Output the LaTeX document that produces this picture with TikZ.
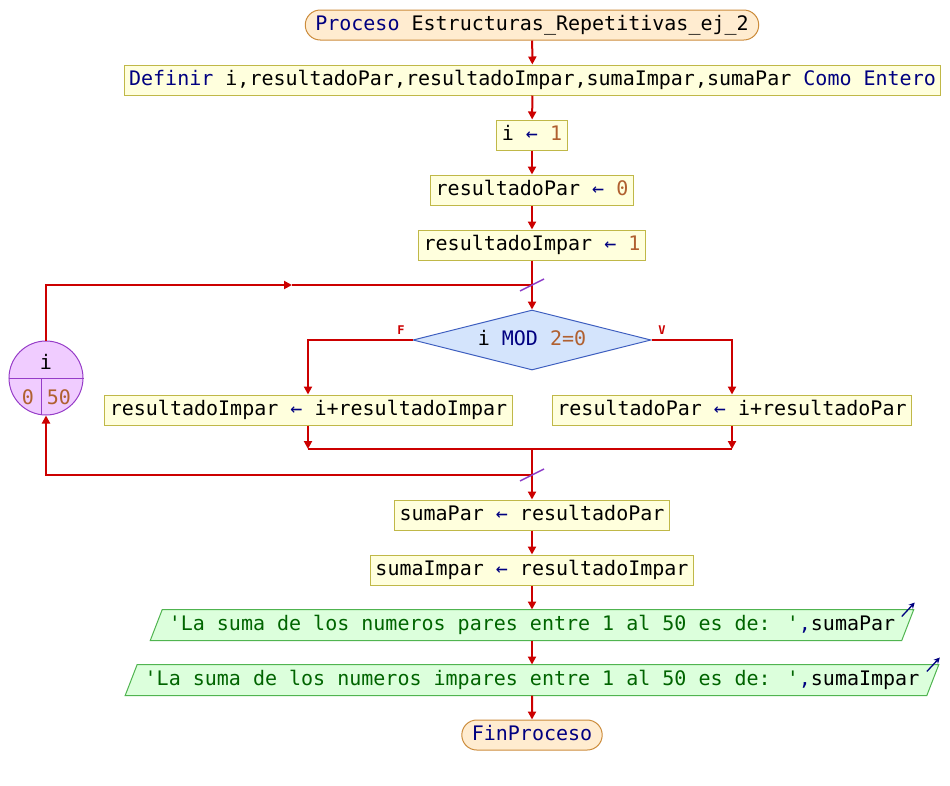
\documentclass[tikz,border=0pt]{standalone}
\usepackage{fontspec}
\newfontfamily\codigo{DejaVu Sans Mono}
\usetikzlibrary{arrows.meta,shapes.geometric,shapes.misc,backgrounds}
\definecolor{rojo}{RGB}{204,0,0}
\definecolor{kwazul}{RGB}{0,0,128}
\definecolor{numcafe}{RGB}{176,96,48}
\definecolor{cadverde}{RGB}{0,100,0}
\definecolor{procfondo}{RGB}{255,236,208}
\definecolor{procborde}{RGB}{204,140,60}
\definecolor{asigfondo}{RGB}{255,255,221}
\definecolor{asigborde}{RGB}{192,184,72}
\definecolor{decfondo}{RGB}{212,228,252}
\definecolor{decborde}{RGB}{64,96,192}
\definecolor{cicfondo}{RGB}{240,204,255}
\definecolor{cicborde}{RGB}{150,60,200}
\definecolor{salfondo}{RGB}{220,255,220}
\definecolor{salborde}{RGB}{80,180,80}
\definecolor{morado}{RGB}{140,60,200}
\newcommand{\kw}[1]{\textcolor{kwazul}{#1}}
\newcommand{\nro}[1]{\textcolor{numcafe}{#1}}
\newcommand{\cad}[1]{\textcolor{cadverde}{#1}}
\newcommand{\asg}{\textcolor{kwazul}{←}}
\tikzset{
  base/.style={font=\codigo\fontsize{20}{24}\selectfont, text height=14pt, text depth=4pt, minimum height=30pt, inner ysep=4pt, line width=1pt},
  proceso/.style={base, rounded rectangle, draw=procborde, fill=procfondo, inner xsep=7pt},
  asigna/.style={base, rectangle, draw=asigborde, fill=asigfondo, inner xsep=5pt},
  decision/.style={base, diamond, aspect=4, draw=decborde, fill=decfondo, minimum width=238pt, minimum height=60pt, inner sep=0pt},
  salida/.style={base, rectangle, inner xsep=12pt},
  salforma/.style={draw=salborde, fill=salfondo, line width=1pt},
  ciclo/.style={circle, draw=cicborde, fill=cicfondo, minimum size=74pt, inner sep=0pt, line width=1pt},
  ctexto/.style={font=\codigo\fontsize{20}{24}\selectfont, inner sep=0pt},
  flecha/.style={draw=rojo, line width=2pt, -{Triangle[width=8pt,length=8pt]}},
  linea/.style={draw=rojo, line width=2pt},
  marca/.style={draw=morado, line width=1.5pt},
  etiq/.style={font=\codigo\fontsize{12}{14}\bfseries\selectfont, text=rojo},
  avisa/.style={draw=kwazul, line width=1.3pt, -{Stealth[length=6pt,width=6pt]}}
}
\begin{document}
\begin{tikzpicture}[x=1pt,y=-1pt]
\useasboundingbox (0,0) rectangle (950,785);
% secuencia inicial
\node[proceso] (proc) at (532,25) {\kw{Proceso} Estructuras\_Repetitivas\_ej\_2};
\node[asigna] (defin) at (532.5,80) {\kw{Definir} i,resultadoPar,resultadoImpar,sumaImpar,sumaPar \kw{Como Entero}};
\node[asigna] (asig1) at (532,135) {i \asg{} \nro{1}};
\node[asigna] (asig2) at (532,190) {resultadoPar \asg{} \nro{0}};
\node[asigna] (asig3) at (532,245) {resultadoImpar \asg{} \nro{1}};
% ciclo para
\node[ciclo] (ciclo) at (46,378) {};
\draw[cicborde, line width=1pt] (ciclo.west) -- (ciclo.east);
\draw[cicborde, line width=1pt] (41,378) -- (41,414);
\node[ctexto] (cVar) at (46,362) {i};
\node[ctexto] (cIni) at (28,397) {\nro{0}};
\node[ctexto] (cFin) at (59,397) {\nro{50}};
% condicion
\node[decision] (cond) at (532,340) {i \kw{MOD} \nro{2=0}};
\node[etiq] (etF) at (401,330) {F};
\node[etiq] (etV) at (662,330) {V};
\node[asigna] (izq) at (308.5,410) {resultadoImpar \asg{} i+resultadoImpar};
\node[asigna] (der) at (732,410) {resultadoPar \asg{} i+resultadoPar};
% secuencia final
\node[asigna] (sumaP) at (532,515) {sumaPar \asg{} resultadoPar};
\node[asigna] (sumaI) at (532,570) {sumaImpar \asg{} resultadoImpar};
\node[salida] (sal1) at (532,625) {\cad{\textquotesingle La suma de los numeros pares entre 1 al 50 es de: \textquotesingle}\kw{,}sumaPar};
\node[salida, inner xsep=13pt] (sal2) at (532,680) {\cad{\textquotesingle La suma de los numeros impares entre 1 al 50 es de: \textquotesingle}\kw{,}sumaImpar};
\node[proceso] (fin) at (532,735) {\kw{FinProceso}};
\begin{scope}[on background layer]
\foreach \s in {sal1,sal2}
  \draw[salforma] ([xshift=-6pt]\s.south west) -- ([xshift=6pt]\s.north west)
    -- ([xshift=6pt]\s.north east) -- ([xshift=-6pt]\s.south east) -- cycle;
\end{scope}
% puntos de union
\coordinate (nudoA) at (532,285);
\coordinate (vueltaA) at (46,285);
\coordinate (medioA) at (292,285);
\coordinate (izqA) at (308,340);
\coordinate (derA) at (732,340);
\coordinate (izqB) at (308,449);
\coordinate (derB) at (732,449);
\coordinate (nudoB) at (532,449);
\coordinate (nudoC) at (532,475);
\coordinate (vueltaB) at (46,475);
% conectores
\draw[flecha] (proc) -- (defin);
\draw[flecha] (defin) -- (asig1);
\draw[flecha] (asig1) -- (asig2);
\draw[flecha] (asig2) -- (asig3);
\draw[linea] (asig3) -- (nudoA);
\draw[flecha] (nudoA) -- (cond);
\draw[flecha] (ciclo.north) -- (vueltaA) -- (medioA);
\draw[linea] (medioA) -- (nudoA);
\draw[flecha] (cond.west) -- (izqA) -- (izq.north -| izqA);
\draw[flecha] (cond.east) -- (derA) -- (der.north);
\draw[flecha] (izq.south -| izqB) -- (izqB);
\draw[flecha] (der) -- (derB);
\draw[linea] (izqB) -- (derB);
\draw[linea] (nudoB) -- (nudoC);
\draw[flecha] (nudoC) -- (sumaP);
\draw[flecha] (nudoC) -- (vueltaB) -- (ciclo.south);
\draw[flecha] (sumaP) -- (sumaI);
\draw[flecha] (sumaI) -- (sal1);
\draw[flecha] (sal1) -- (sal2);
\draw[flecha] (sal2) -- (fin);
% marcas del ciclo
\draw[marca] ([shift={(-12pt,-6pt)}]nudoA) -- ([shift={(12pt,6pt)}]nudoA);
\draw[marca] ([shift={(-12pt,-6pt)}]nudoC) -- ([shift={(12pt,6pt)}]nudoC);
% salidas
\draw[avisa] ([shift={(-6pt,-7pt)}]sal1.north east) -- ++(13pt,14pt);
\draw[avisa] ([shift={(-6pt,-7pt)}]sal2.north east) -- ++(13pt,14pt);
\end{tikzpicture}
\end{document}
